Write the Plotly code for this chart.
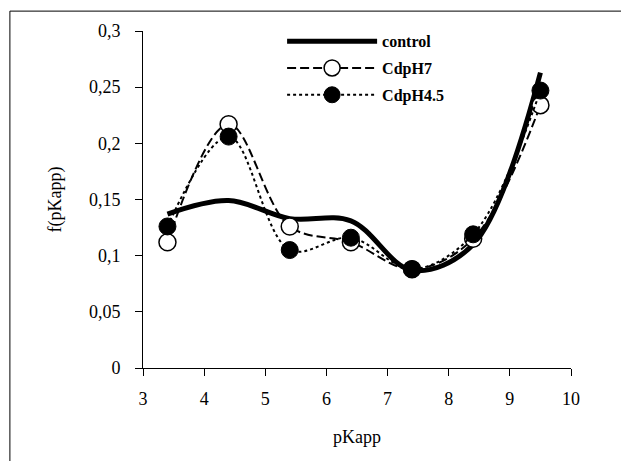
import plotly.graph_objects as go

x_vals = [3.4, 4.4, 5.4, 6.4, 7.4, 8.4, 9.5]
control = [0.137, 0.149, 0.133, 0.131, 0.087, 0.110, 0.263]
cd_ph7 = [0.112, 0.217, 0.126, 0.112, 0.088, 0.115, 0.234]
cd_ph45 = [0.126, 0.206, 0.105, 0.116, 0.088, 0.119, 0.247]

y_ticks = [0, 0.05, 0.1, 0.15, 0.2, 0.25, 0.3]
y_tick_text = ["0", "0,05", "0,1", "0,15", "0,2", "0,25", "0,3"]
x_ticks = [3, 4, 5, 6, 7, 8, 9, 10]

font_serif = "Liberation Serif, Times New Roman, serif"

fig = go.Figure()
fig.add_trace(go.Scatter(
    x=x_vals, y=control, name="control", mode="lines", legendgroup="a",
    line=dict(color="black", width=5, shape="spline", smoothing=1.0),
))
fig.add_trace(go.Scatter(
    x=x_vals, y=cd_ph7, name="CdpH7", mode="lines+markers", legendgroup="b",
    line=dict(color="black", width=2, dash="9px,4px", shape="spline", smoothing=1.0),
    marker=dict(symbol="circle", size=17, color="white", line=dict(color="black", width=1.5)),
))
fig.add_trace(go.Scatter(
    x=x_vals, y=cd_ph45, name="CdpH4.5", mode="lines+markers", legendgroup="c",
    line=dict(color="black", width=2, dash="3px,3px", shape="spline", smoothing=1.0),
    marker=dict(symbol="circle", size=17, color="black", line=dict(color="black", width=1)),
))

fig.update_layout(
    width=621, height=453,
    margin=dict(l=135, r=58, t=23, b=93, autoexpand=False),
    paper_bgcolor="white", plot_bgcolor="white",
    font=dict(family=font_serif, size=18, color="black"),
    showlegend=True,
    legend=dict(
        x=0.325, y=1.02, xanchor="left", yanchor="top",
        bgcolor="rgba(0,0,0,0)", itemwidth=90, tracegroupgap=3,
        traceorder="grouped",
        font=dict(family=font_serif, size=16, color="black", weight="bold"),
    ),
    shapes=[dict(type="rect", xref="paper", yref="paper",
                 x0=-0.311, x1=2.0, y0=-1.0, y1=1.059,
                 line=dict(color="black", width=1), layer="below")],
)
fig.update_xaxes(
    range=[3, 10], tickvals=x_ticks, showgrid=False, zeroline=False,
    showline=True, linecolor="black", linewidth=1, automargin=False,
    ticks="outside", ticklen=7, tickcolor="black", ticklabelstandoff=7,
    title=dict(text="pKapp", standoff=22, font=dict(size=18)),
)
fig.update_yaxes(
    range=[0, 0.3], tickvals=y_ticks, ticktext=y_tick_text, showgrid=False, zeroline=False,
    showline=True, linecolor="black", linewidth=1, automargin=False,
    ticks="outside", ticklen=7, tickcolor="black", ticklabelstandoff=11,
    title=dict(text="f(pKapp)", standoff=22, font=dict(size=18)),
)

fig.write_html("out.html")
